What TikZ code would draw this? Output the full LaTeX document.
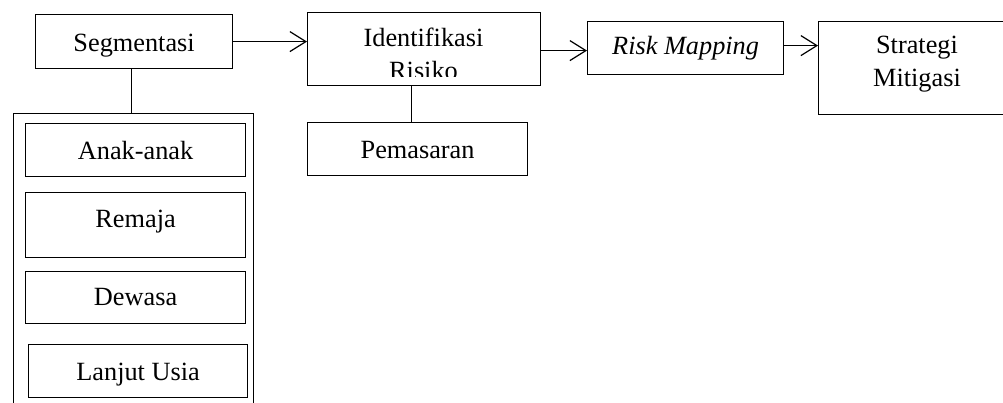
\documentclass[tikz,border=0pt]{standalone}
\usepackage{fontspec}
\setmainfont{Liberation Serif}
\usetikzlibrary{arrows.meta}
\begin{document}
\begin{tikzpicture}[x=1pt,y=-1pt,>={Straight Barb[length=16pt,width=20pt]}, line width=1.2pt, font=\fontsize{26.3}{33}\selectfont,
	box/.style={draw, inner xsep=0pt, inner ysep=0pt, anchor=north west}]
			\def\bw{220} % lebar kotak segmen
			\clip (0,0) rectangle (1003,403);
			% baris atas
			\node[box, minimum width=197pt, text height=37pt, text depth=17pt] (seg) at (35,14) {Segmentasi};
			\node[box, minimum width=233pt, minimum height=73pt] (ident) at (307,12) {};
			\node[box, minimum width=196pt, text height=33pt, text depth=20pt] (risk) at (587,21) {\textit{Risk Mapping}};
			\node[box, minimum width=198pt, minimum height=93pt] (strat) at (818,21) {};
			\node[anchor=base, align=center, inner sep=0pt] (strattxt) at (917,87) {Strategi\\Mitigasi};
			\begin{scope}
				\clip (ident.north west) rectangle ([yshift=10pt]ident.south east);
				\node[anchor=base, align=center, inner sep=0pt] (identtxt) at (423.5,80) {Identifikasi\\Risiko};
			\end{scope}
			\node[box, minimum width=\bw pt, text height=36pt, text depth=17pt] (pemas) at (307,122) {Pemasaran};
			% segmen
			\node[box, minimum width=240pt, minimum height=320pt] (outer) at (13,113) {};
			\node[box, minimum width=\bw pt, text height=36pt, text depth=17pt] (anak) at (25,123) {Anak-anak};
			\node[box, minimum width=\bw pt, text height=35pt, text depth=30pt] (remaja) at (25,192) {Remaja};
			\node[box, minimum width=\bw pt, text height=34pt, text depth=18pt] (dewasa) at (25,271) {Dewasa};
			\node[box, minimum width=219pt, text height=36pt, text depth=17pt] (lanjut) at (28,344) {Lanjut Usia};
			% garis
			\draw[->] (seg.east) -- (seg.east -| ident.west);
			\draw[->] ([yshift=-1.5pt]ident.east) -- ([yshift=-1.5pt]ident.east -| risk.west);
			\draw[->] ([yshift=2.5pt]risk.east) -- ([yshift=2.5pt]risk.east -| strat.west);
			\draw ([xshift=-2.5pt]seg.south) -- ([xshift=-2.5pt]seg.south |- outer.north);
			\draw ([xshift=-12.5pt]ident.south) -- ([xshift=-12.5pt]ident.south |- pemas.north);
\end{tikzpicture}
\end{document}
